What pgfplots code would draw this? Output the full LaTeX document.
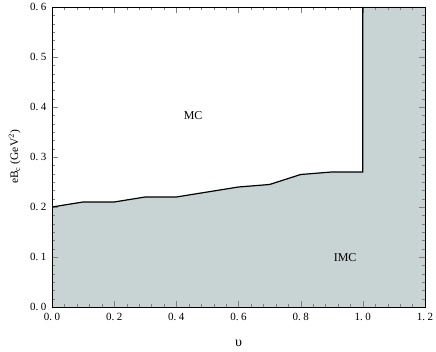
\documentclass[border=0pt]{standalone}
\usepackage{fontspec}
\setmainfont{Liberation Serif}
\usepackage{pgfplots}
\pgfplotsset{compat=1.18}
\definecolor{fillc}{RGB}{200,212,212}
\newcommand{\tlab}[2]{#1.\hspace{2.5pt}#2}
\begin{document}
\begin{tikzpicture}
\begin{axis}[
  scale only axis,
  width=373pt, height=300pt,
  xmin=0, xmax=1.2, ymin=0, ymax=0.6,
  xtick={0,0.2,0.4,0.6,0.8,1.0,1.2},
  xticklabels={\tlab{0}{0},\tlab{0}{2},\tlab{0}{4},\tlab{0}{6},\tlab{0}{8},\tlab{1}{0},\tlab{1}{2}},
  ytick={0,0.1,0.2,0.3,0.4,0.5,0.6},
  yticklabels={\tlab{0}{0},\tlab{0}{1},\tlab{0}{2},\tlab{0}{3},\tlab{0}{4},\tlab{0}{5},\tlab{0}{6}},
  minor x tick num=4,
  minor y tick num=5,
  major tick length=6pt,
  line width=1pt,
  ticklabel style={font=\fontsize{11}{13}\selectfont},
  xticklabel style={yshift=-3pt},
  yticklabel style={xshift=-2pt},
  xlabel={\fontsize{14}{16}\selectfont υ},
  ylabel={\fontsize{11.5}{13}\selectfont eB$_{\mathrm{c}}$ (GeV$^{2}$)},
  every axis x label/.style={at={(axis description cs:0.5,-0.12)}, anchor=center},
  every axis y label/.style={at={(axis description cs:-0.1,0.5)}, anchor=center, rotate=90},
  set layers,
]
\addplot[fill=fillc, draw=none, on layer=axis background] coordinates {
(0,0) (0,0.2) (0.1,0.21) (0.2,0.21) (0.3,0.22) (0.4,0.22) (0.5,0.23) (0.6,0.24) (0.7,0.245) (0.8,0.265) (0.9,0.27) (1.0,0.27) (1.0,0.6) (1.2,0.6) (1.2,0) (0,0)};
\addplot[black, line width=1.2pt] coordinates {
(0,0.2) (0.1,0.21) (0.2,0.21) (0.3,0.22) (0.4,0.22) (0.5,0.23) (0.6,0.24) (0.7,0.245) (0.8,0.265) (0.9,0.27) (1.0,0.27) (1.0,0.6)};
\node[font=\fontsize{12}{14}\selectfont] at (axis cs:0.454,0.382) {MC};
\node[font=\fontsize{12}{14}\selectfont] at (axis cs:0.943,0.098) {IMC};
\end{axis}
\pgfresetboundingbox
\useasboundingbox (-52pt,-45pt) rectangle (384pt,307pt);
\end{tikzpicture}
\end{document}
